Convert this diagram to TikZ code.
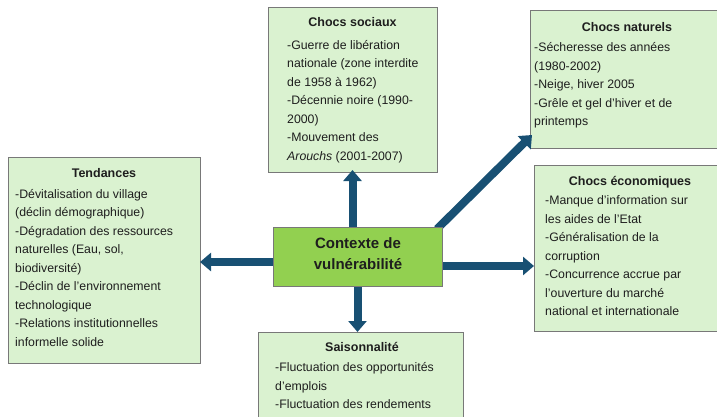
\documentclass[tikz,border=0pt]{standalone}
\usepackage{fontspec}
\setmainfont{Liberation Sans}
\usetikzlibrary{arrows.meta,calc}
\definecolor{boxfill}{RGB}{218,242,208}
\definecolor{boxedge}{RGB}{120,120,120}
\definecolor{ctxfill}{RGB}{146,208,80}
\definecolor{arrowblue}{RGB}{24,80,115}
\definecolor{txt}{RGB}{30,30,30}
\begin{document}
\begin{tikzpicture}[x=1pt,y=-1pt,
 box/.style={draw=boxedge, line width=0.8pt, fill=boxfill, anchor=north west, inner sep=0pt, outer sep=0pt},
 ttl/.style={font=\fontsize{12.5}{15}\selectfont\bfseries, text=txt, inner sep=0pt, anchor=base},
 body/.style={font=\fontsize{12.3}{18.5}\selectfont, text=txt, inner sep=0pt, anchor=north west, align=left},
 barrow/.style={draw=arrowblue, line width=8pt, -{Triangle[width=18pt,length=11pt]}}
]
\useasboundingbox (0,0) rectangle (717,416);
% outer boxes
\node[box, minimum width=169pt, minimum height=165pt] (soc) at (268,7) {};
\node[box, minimum width=192pt, minimum height=206pt] (ten) at (8,157) {};
\node[box, minimum width=190pt, minimum height=138pt] (nat) at (530,10) {};
\node[box, minimum width=186pt, minimum height=166pt] (eco) at (534,165) {};
\node[box, minimum width=205pt, minimum height=90pt] (sai) at (258,332) {};
\node[draw=none, anchor=north west, inner sep=0pt, outer sep=0pt, minimum width=169pt, minimum height=59pt] (ctx) at (273,227) {};
% arrows
\coordinate (lA) at ([yshift=-5.5pt]ctx.west);
\coordinate (rA) at ([yshift=-9.5pt]ctx.east);
\coordinate (dA) at ([xshift=-5pt,yshift=-2pt]ctx.north east);
\coordinate (dB) at ([xshift=2pt,yshift=13pt]nat.south west);
\draw[barrow] (ctx.north -| soc.south) -- ([yshift=2pt]soc.south);
\draw[barrow] (ctx.south) -- (ctx.south |- sai.north);
\draw[barrow] (lA) -- (lA -| ten.east);
\draw[barrow] (rA) -- (rA -| eco.west);
\draw[barrow] (dA) -- (dB);
% centre box on top
\draw[draw=boxedge, line width=0.8pt, fill=ctxfill] (ctx.north west) rectangle (ctx.south east);
\node[font=\fontsize{15}{21}\selectfont\bfseries, text=txt, align=center, inner sep=0pt] (ctxt) at (358,254) {Contexte de\\vulnérabilité};
% titles
\node[ttl] (socT) at (352.5,26.5) {Chocs sociaux};
\node[ttl] (tenT) at (104,177.5) {Tendances};
\node[ttl] (natT) at (627,31.5) {Chocs naturels};
\node[ttl] (ecoT) at (630,185.5) {Chocs économiques};
\node[ttl] (saiT) at (362,351.5) {Saisonnalité};
% bodies
\node[body] (socB) at (287,36) {\strut-Guerre de libération\\nationale (zone interdite\\de 1958 à 1962)\\-Décennie noire (1990-\\2000)\\-Mouvement des\\\textit{Arouchs} (2001-2007)};
\node[body] (tenB) at (15,185) {\strut-Dévitalisation du village\\(déclin démographique)\\-Dégradation des ressources\\naturelles (Eau, sol,\\biodiversité)\\-Déclin de l’environnement\\technologique\\-Relations institutionnelles\\informelle solide};
\node[body] (natB) at (534,38.5) {\strut-Sécheresse des années\\(1980-2002)\\-Neige, hiver 2005\\-Grêle et gel d’hiver et de\\printemps};
\node[body] (ecoB) at (545,191.5) {\strut-Manque d’information sur\\les aides de l’Etat\\-Généralisation de la\\corruption\\-Concurrence accrue par\\l’ouverture du marché\\national et internationale};
\node[body] (saiB) at (275,358.5) {\strut-Fluctuation des opportunités\\d’emplois\\-Fluctuation des rendements};
\end{tikzpicture}
\end{document}
